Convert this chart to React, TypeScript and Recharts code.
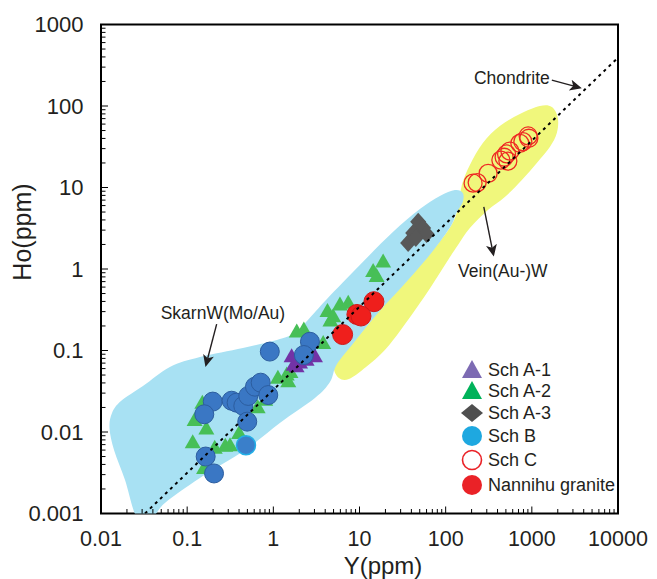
import React from 'react';
import { ScatterChart, Scatter, XAxis, YAxis, ReferenceArea, Customized } from 'recharts';

type P = { x: number; y: number };

// ---- data (Y ppm, Ho ppm) ----
const schA1: P[] = [
  { x: 1.63, y: 0.084 }, { x: 1.86, y: 0.063 }, { x: 2.04, y: 0.07 },
  { x: 2.43, y: 0.076 }, { x: 3.04, y: 0.084 }, { x: 1.72, y: 0.066 },
];
const schA2: P[] = [
  { x: 0.116, y: 0.0074 }, { x: 0.122, y: 0.0138 }, { x: 0.167, y: 0.0109 }, { x: 0.157, y: 0.00356 },
  { x: 0.209, y: 0.0063 }, { x: 0.277, y: 0.0067 }, { x: 0.314, y: 0.0068 }, { x: 0.401, y: 0.0096 },
  { x: 0.15, y: 0.0225 }, { x: 0.658, y: 0.0199 }, { x: 0.805, y: 0.0246 }, { x: 1.13, y: 0.0458 },
  { x: 1.49, y: 0.0413 }, { x: 1.43, y: 0.05 }, { x: 1.58, y: 0.0536 }, { x: 1.87, y: 0.169 },
  { x: 2.26, y: 0.179 }, { x: 3.79, y: 0.122 }, { x: 4.25, y: 0.3 }, { x: 4.6, y: 0.23 },
  { x: 4.95, y: 0.26 }, { x: 5.93, y: 0.361 }, { x: 7.4, y: 0.38 }, { x: 14.4, y: 0.93 },
  { x: 15.8, y: 0.81 }, { x: 18.8, y: 1.22 },
];
const schA3: P[] = [
  { x: 48, y: 3.8 }, { x: 54.8, y: 3.18 }, { x: 42, y: 2.77 },
  { x: 36.7, y: 2.08 }, { x: 60, y: 2.69 }, { x: 45, y: 2.4 },
];
const schB: P[] = [
  { x: 0.91, y: 0.097 }, { x: 2.66, y: 0.128 }, { x: 2.26, y: 0.088 }, { x: 0.198, y: 0.0236 },
  { x: 0.158, y: 0.0165 }, { x: 0.328, y: 0.0242 }, { x: 0.375, y: 0.0229 }, { x: 0.448, y: 0.0209 },
  { x: 0.512, y: 0.0277 }, { x: 0.612, y: 0.036 }, { x: 0.713, y: 0.0403 }, { x: 0.873, y: 0.0284 },
  { x: 0.498, y: 0.0134 }, { x: 0.164, y: 0.005 }, { x: 0.205, y: 0.0031 },
];
const schBLight: P[] = [{ x: 0.481, y: 0.0069 }];
const schC: P[] = [
  { x: 208, y: 11.3 }, { x: 232, y: 11.5 }, { x: 311, y: 14.9 }, { x: 437, y: 21.7 },
  { x: 477, y: 23.5 }, { x: 509, y: 25.8 }, { x: 556, y: 28 }, { x: 527, y: 21.1 },
  { x: 726, y: 34.8 }, { x: 787, y: 36.5 }, { x: 906, y: 42.9 }, { x: 923, y: 40.2 },
];
const nannihu: P[] = [
  { x: 14.7, y: 0.397 }, { x: 9.33, y: 0.277 }, { x: 10.4, y: 0.265 }, { x: 6.37, y: 0.157 },
];

// field outlines (data coordinates)
const skarnField: P[] = [
  { x: 0.0262, y: 0.00088 }, { x: 0.019, y: 0.00258 }, { x: 0.01416, y: 0.006 }, { x: 0.01255, y: 0.0112 },
  { x: 0.01342, y: 0.0171 }, { x: 0.01706, y: 0.024 }, { x: 0.0307, y: 0.0366 }, { x: 0.063, y: 0.0628 },
  { x: 0.1406, y: 0.0832 }, { x: 0.443, y: 0.1074 }, { x: 1.1, y: 0.1346 }, { x: 1.78, y: 0.164 },
  { x: 2.52, y: 0.237 }, { x: 4.19, y: 0.429 }, { x: 10.1, y: 1.12 }, { x: 24.4, y: 2.84 },
  { x: 50.2, y: 5.45 }, { x: 85.7, y: 7.87 }, { x: 128, y: 9.31 }, { x: 158, y: 8.57 },
  { x: 158, y: 6.64 }, { x: 133, y: 4.86 }, { x: 115, y: 3.37 }, { x: 71, y: 1.66 },
  { x: 37.5, y: 0.753 }, { x: 16.8, y: 0.296 }, { x: 8.0, y: 0.1135 }, { x: 5.4, y: 0.0664 },
  { x: 4.54, y: 0.041 }, { x: 3.04, y: 0.0261 }, { x: 1.19, y: 0.0129 }, { x: 0.469, y: 0.006 },
  { x: 0.1406, y: 0.00273 }, { x: 0.0552, y: 0.00135 }, { x: 0.0391, y: 0.00088 },
];
const veinField: P[] = [
  { x: 1239, y: 100 }, { x: 1706, y: 97.2 }, { x: 2003, y: 71.3 }, { x: 1950, y: 46.6 },
  { x: 1618, y: 31.4 }, { x: 1143, y: 20 }, { x: 766, y: 12.4 }, { x: 486, y: 7.64 },
  { x: 309, y: 5.3 }, { x: 191, y: 3.18 }, { x: 139, y: 1.97 }, { x: 103, y: 1.22 },
  { x: 60.5, y: 0.508 }, { x: 31.9, y: 0.194 }, { x: 19.7, y: 0.1014 }, { x: 11.9, y: 0.0628 },
  { x: 7.54, y: 0.0447 }, { x: 5.77, y: 0.046 }, { x: 5.05, y: 0.061 }, { x: 5.93, y: 0.0857 },
  { x: 8.17, y: 0.12 }, { x: 17.3, y: 0.314 }, { x: 38.5, y: 0.798 }, { x: 71.1, y: 1.71 },
  { x: 115, y: 3.37 }, { x: 139, y: 5.6 }, { x: 154, y: 10.7 }, { x: 191, y: 18.9 },
  { x: 270, y: 35.2 }, { x: 425, y: 56.9 }, { x: 726, y: 79.8 },
];
const chondrite: P[] = [{ x: 0.0324, y: 0.001 }, { x: 10000, y: 392 }];
const chondriteArrow: P[] = [{ x: 1706, y: 208 }, { x: 3802, y: 165 }];
const veinArrow: P[] = [{ x: 277, y: 5.77 }, { x: 362, y: 1.42 }];
const skarnArrow: P[] = [{ x: 0.22, y: 0.211 }, { x: 0.163, y: 0.0628 }];
const annotations = [
  { x: 586, y: 221, text: 'Chondrite' },
  { x: 461, y: 0.944, text: 'Vein(Au-)W' },
  { x: 0.26, y: 0.288, text: 'SkarnW(Mo/Au)' },
];

const majorX = [0.01, 0.1, 1, 10, 100, 1000, 10000];
const majorY = [0.001, 0.01, 0.1, 1, 10, 100, 1000];
const minorSteps = [2, 3, 4, 5, 6, 7, 8, 9];
const withMinor = (majors: number[]) =>
  [...majors, ...majors.slice(0, -1).flatMap((m) => minorSteps.map((k) => +(m * k).toPrecision(6)))].sort((a, b) => a - b);
const xTicks = withMinor(majorX);
const yTicks = withMinor(majorY);

const legendItems = [
  { name: 'Sch A-1', kind: 'tri', color: '#7d6bb3' },
  { name: 'Sch A-2', kind: 'tri', color: '#00b25a' },
  { name: 'Sch A-3', kind: 'dia', color: '#4f4f4f' },
  { name: 'Sch B', kind: 'circle', color: '#1ea8e0' },
  { name: 'Sch C', kind: 'hollow', color: '#ea2227' },
  { name: 'Nannihu granite', kind: 'circle', color: '#ea2227' },
];

const FONT = '"Liberation Sans", Arial, Helvetica, sans-serif';
const TXT = '#231f20';

// ---- shapes ----
const hidden = () => <g />;
const triangle = (fill: string) => (p: any) => (
  <polygon
    points={`${p.cx},${p.cy - 8.5} ${p.cx + 8},${p.cy + 5.5} ${p.cx - 8},${p.cy + 5.5}`}
    fill={fill}
  />
);
const diamond = (fill: string) => (p: any) => (
  <polygon points={`${p.cx},${p.cy - 9} ${p.cx + 8},${p.cy} ${p.cx},${p.cy + 9} ${p.cx - 8},${p.cy}`} fill={fill} />
);
const dot = (fill: string, stroke: string, r: number, sw = 1) => (p: any) => (
  <circle cx={p.cx} cy={p.cy} r={r} fill={fill} stroke={stroke} strokeWidth={sw} />
);

function smoothClosed(pts: { x: number; y: number }[]) {
  const n = pts.length;
  let d = `M${pts[0].x},${pts[0].y}`;
  for (let i = 0; i < n; i++) {
    const p0 = pts[(i - 1 + n) % n];
    const p1 = pts[i];
    const p2 = pts[(i + 1) % n];
    const p3 = pts[(i + 2) % n];
    const t = 1 / 6;
    d += ` C${p1.x + (p2.x - p0.x) * t},${p1.y + (p2.y - p0.y) * t} ${p2.x - (p3.x - p1.x) * t},${p2.y - (p3.y - p1.y) * t} ${p2.x},${p2.y}`;
  }
  return d + 'Z';
}
const region = (fill: string) => (props: any) => {
  const pts = props.points || [];
  if (pts.length < 3) return <g />;
  return <path d={smoothClosed(pts)} fill={fill} stroke="none" />;
};
const arrow = (props: any) => {
  const pts = props.points || [];
  if (pts.length < 2) return <g />;
  const [a, b] = pts;
  const dx = b.x - a.x;
  const dy = b.y - a.y;
  const len = Math.hypot(dx, dy);
  const ux = dx / len;
  const uy = dy / len;
  const hl = 12;
  const hw = 5.5;
  const bx = b.x - ux * hl;
  const by = b.y - uy * hl;
  const nx = b.x - ux * hl * 0.75;
  const ny = b.y - uy * hl * 0.75;
  return (
    <g>
      <line x1={a.x} y1={a.y} x2={nx} y2={ny} stroke={TXT} strokeWidth={1.4} />
      <polygon
        points={`${b.x},${b.y} ${bx - uy * hw},${by + ux * hw} ${nx},${ny} ${bx + uy * hw},${by - ux * hw}`}
        fill={TXT}
      />
    </g>
  );
};
const annotationShape = (p: any) => (
  <text x={p.cx} y={p.cy} textAnchor="middle" dominantBaseline="central" fontSize={17.5} fontFamily={FONT} fill={TXT}>
    {p.payload.text}
  </text>
);

const XTick = (props: any) => {
  const { x, y, payload } = props;
  const major = majorX.includes(payload.value);
  return (
    <g>
      <line x1={x} x2={x} y1={y} y2={y - (major ? 7 : 4.5)} stroke="#000" strokeWidth={1} />
      {major && (
        <text x={x} y={y + 25.5} textAnchor="middle" dominantBaseline="central" fontSize={21.5} fontFamily={FONT} fill={TXT}>
          {String(payload.value)}
        </text>
      )}
    </g>
  );
};
const YTick = (props: any) => {
  const { x, y, payload } = props;
  const major = majorY.includes(payload.value);
  return (
    <g>
      <line x1={x} x2={x + (major ? 7 : 4.5)} y1={y} y2={y} stroke="#000" strokeWidth={1} />
      {major && (
        <text x={x - 17.5} y={y} textAnchor="end" dominantBaseline="central" fontSize={22} fontFamily={FONT} fill={TXT}>
          {String(payload.value)}
        </text>
      )}
    </g>
  );
};

const Titles = () => (
  <g fontFamily={FONT} fill={TXT}>
    <text x={383} y={565} textAnchor="middle" dominantBaseline="central" fontSize={24}>Y(ppm)</text>
    <text x={22} y={232} textAnchor="middle" dominantBaseline="central" fontSize={25} transform="rotate(-90 22 232)">Ho(ppm)</text>
  </g>
);

const LegendBox = () => {
  const mx = 472;
  const tx = 488;
  const rows = [370, 391, 413, 436, 460, 485];
  return (
    <g fontFamily={FONT}>
      {legendItems.map((it, i) => {
        const cy = rows[i];
        let m: React.ReactNode = null;
        if (it.kind === 'tri')
          m = <polygon points={`${mx},${cy - 10} ${mx + 10},${cy + 8} ${mx - 10},${cy + 8}`} fill={it.color} />;
        else if (it.kind === 'dia')
          m = <polygon points={`${mx},${cy - 9} ${mx + 11},${cy} ${mx},${cy + 9} ${mx - 11},${cy}`} fill={it.color} />;
        else if (it.kind === 'hollow')
          m = <circle cx={mx} cy={cy} r={9.5} fill="#fff" stroke={it.color} strokeWidth={1.6} />;
        else m = <circle cx={mx} cy={cy} r={10} fill={it.color} />;
        return (
          <g key={it.name}>
            {m}
            <text x={tx} y={cy} dominantBaseline="central" fontSize={18} fill={TXT}>
              {it.name}
            </text>
          </g>
        );
      })}
    </g>
  );
};

export default function App() {
  return (
    <div style={{ position: 'absolute', left: 0, top: 0, width: 657, height: 579, background: '#fff' }}>
      <ScatterChart width={657} height={579} margin={{ top: 24.5, right: 39, bottom: 0, left: 0 }}>
        <XAxis
          dataKey="x"
          type="number"
          scale="log"
          domain={[0.01, 10000]}
          ticks={xTicks}
          interval={0}
          allowDataOverflow
          axisLine={false}
          tickLine={false}
          tickSize={0}
          tickMargin={0}
          height={65.5}
          tick={<XTick />}
        />
        <YAxis
          dataKey="y"
          type="number"
          scale="log"
          domain={[0.001, 1000]}
          ticks={yTicks}
          interval={0}
          allowDataOverflow
          axisLine={false}
          tickLine={false}
          tickSize={0}
          tickMargin={0}
          width={101}
          tick={<YTick />}
        />
        <Scatter data={veinField} shape={hidden} line={region('#f0f77c')} isAnimationActive={false} />
        <Scatter data={skarnField} shape={hidden} line={region('#a8e1f3')} isAnimationActive={false} />
        <Scatter data={schA2} shape={triangle('#47bf57')} isAnimationActive={false} />
        <Scatter data={schA1} shape={triangle('#7233a6')} isAnimationActive={false} />
        <Scatter data={schA3} shape={diamond('#585858')} isAnimationActive={false} />
        <Scatter data={schB} shape={dot('#3a77c4', '#2c5d9f', 9.5)} isAnimationActive={false} />
        <Scatter data={schBLight} shape={dot('#3a7fca', '#22aee6', 9.5, 1.5)} isAnimationActive={false} />
        <Scatter data={nannihu} shape={dot('#ef1f1c', '#d01818', 10)} isAnimationActive={false} />
        <Scatter data={schC} shape={dot('none', '#ee2a24', 9, 1.3)} isAnimationActive={false} />
        <Scatter
          data={chondrite}
          shape={hidden}
          line={{ stroke: '#000', strokeWidth: 2, strokeDasharray: '3 4' }}
          isAnimationActive={false}
        />
        <Scatter data={chondriteArrow} shape={hidden} line={arrow} isAnimationActive={false} />
        <Scatter data={veinArrow} shape={hidden} line={arrow} isAnimationActive={false} />
        <Scatter data={skarnArrow} shape={hidden} line={arrow} isAnimationActive={false} />
        <Scatter data={annotations} shape={annotationShape} isAnimationActive={false} />
        <ReferenceArea x1={0.01} x2={10000} y1={0.001} y2={1000} fill="none" stroke="#000" strokeWidth={2} fillOpacity={0} />
        <Customized component={Titles} />
        <Customized component={LegendBox} />
      </ScatterChart>
    </div>
  );
}
